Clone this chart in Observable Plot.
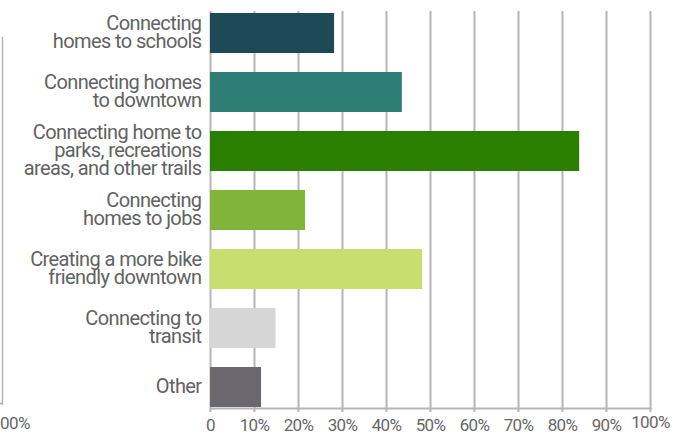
<!DOCTYPE html>
<html><head><meta charset="utf-8">
<script src="https://cdn.jsdelivr.net/npm/d3@7"></script>
<script src="https://cdn.jsdelivr.net/npm/@observablehq/plot@0.6"></script>
<style>body{margin:0;background:#fff;} #chart{width:696px;height:437px;overflow:hidden;}</style>
</head><body><div id="chart"></div>
<script>
const categories = [
  "Connecting\nhomes to schools",
  "Connecting homes\nto downtown",
  "Connecting home to\nparks, recreations\nareas, and other trails",
  "Connecting\nhomes to jobs",
  "Creating a more bike\nfriendly downtown",
  "Connecting to\ntransit",
  "Other"
];
const values = [28.2, 43.6, 83.9, 21.6, 48.2, 14.9, 11.6];
const colors = ["#1e4a58", "#2e7e75", "#2a7e00", "#80b43b", "#c8df6f", "#d6d6d6", "#6a686e"];
const tickValues = [0, 10, 20, 30, 40, 50, 60, 70, 80, 90, 100];

const data = categories.map((c, i) => ({category: c, value: values[i], color: colors[i]}));
const fmt = d => d === 0 ? "0" : (d === 100 ? "" : d + "%");

const plot = Plot.plot({
  width: 696, height: 437,
  marginLeft: 210, marginRight: 46, marginTop: 11, marginBottom: 29,
  style: {fontFamily: "Roboto", background: "#fff", letterSpacing: "-0.6px"},
  x: {domain: [0, 100]},
  y: {domain: categories, padding: 0.33, range: [-7.6, 427.6], axis: null},
  marks: [
    Plot.gridX(tickValues, {stroke: "#b5b5b5", strokeOpacity: 1, strokeWidth: 2}),
    Plot.barX(data, {y: "category", x: "value", fill: "color"}),
    Plot.frame({anchor: "bottom", stroke: "#b5b5b5", strokeWidth: 2}),
    Plot.axisX(tickValues, {tickSize: 4, tickPadding: 6, stroke: "#b5b5b5", strokeWidth: 2, strokeOpacity: 1, fill: "#666", fontSize: 17, tickFormat: fmt, label: null}),
    Plot.axisX([100], {tickSize: 0, tickPadding: 10, dy: -3, fill: "#666", fontSize: 17, tickFormat: d => d + "%", label: null}),
    Plot.text(data, {y: "category", frameAnchor: "left", text: "category", textAnchor: "end", dx: -9, fill: "#626262", fontSize: 20, lineHeight: 0.89})
  ]
});

// clipped remnant of a neighbouring chart at the far left edge
const svg = d3.select(plot);
svg.append("line").attr("x1", 2.5).attr("x2", 2.5).attr("y1", 37).attr("y2", 405)
  .attr("stroke", "#b5b5b5").attr("stroke-width", 1.5);
svg.append("line").attr("x1", 0).attr("x2", 3).attr("y1", 403.5).attr("y2", 403.5)
  .attr("stroke", "#b5b5b5").attr("stroke-width", 1.5);
svg.append("text").attr("x", 0).attr("y", 425).attr("dominant-baseline", "middle")
  .attr("text-anchor", "start")
  .attr("font-family", "Roboto").attr("font-size", 17).attr("fill", "#666").text("00%");

document.getElementById("chart").append(plot);
</script>
</body></html>
